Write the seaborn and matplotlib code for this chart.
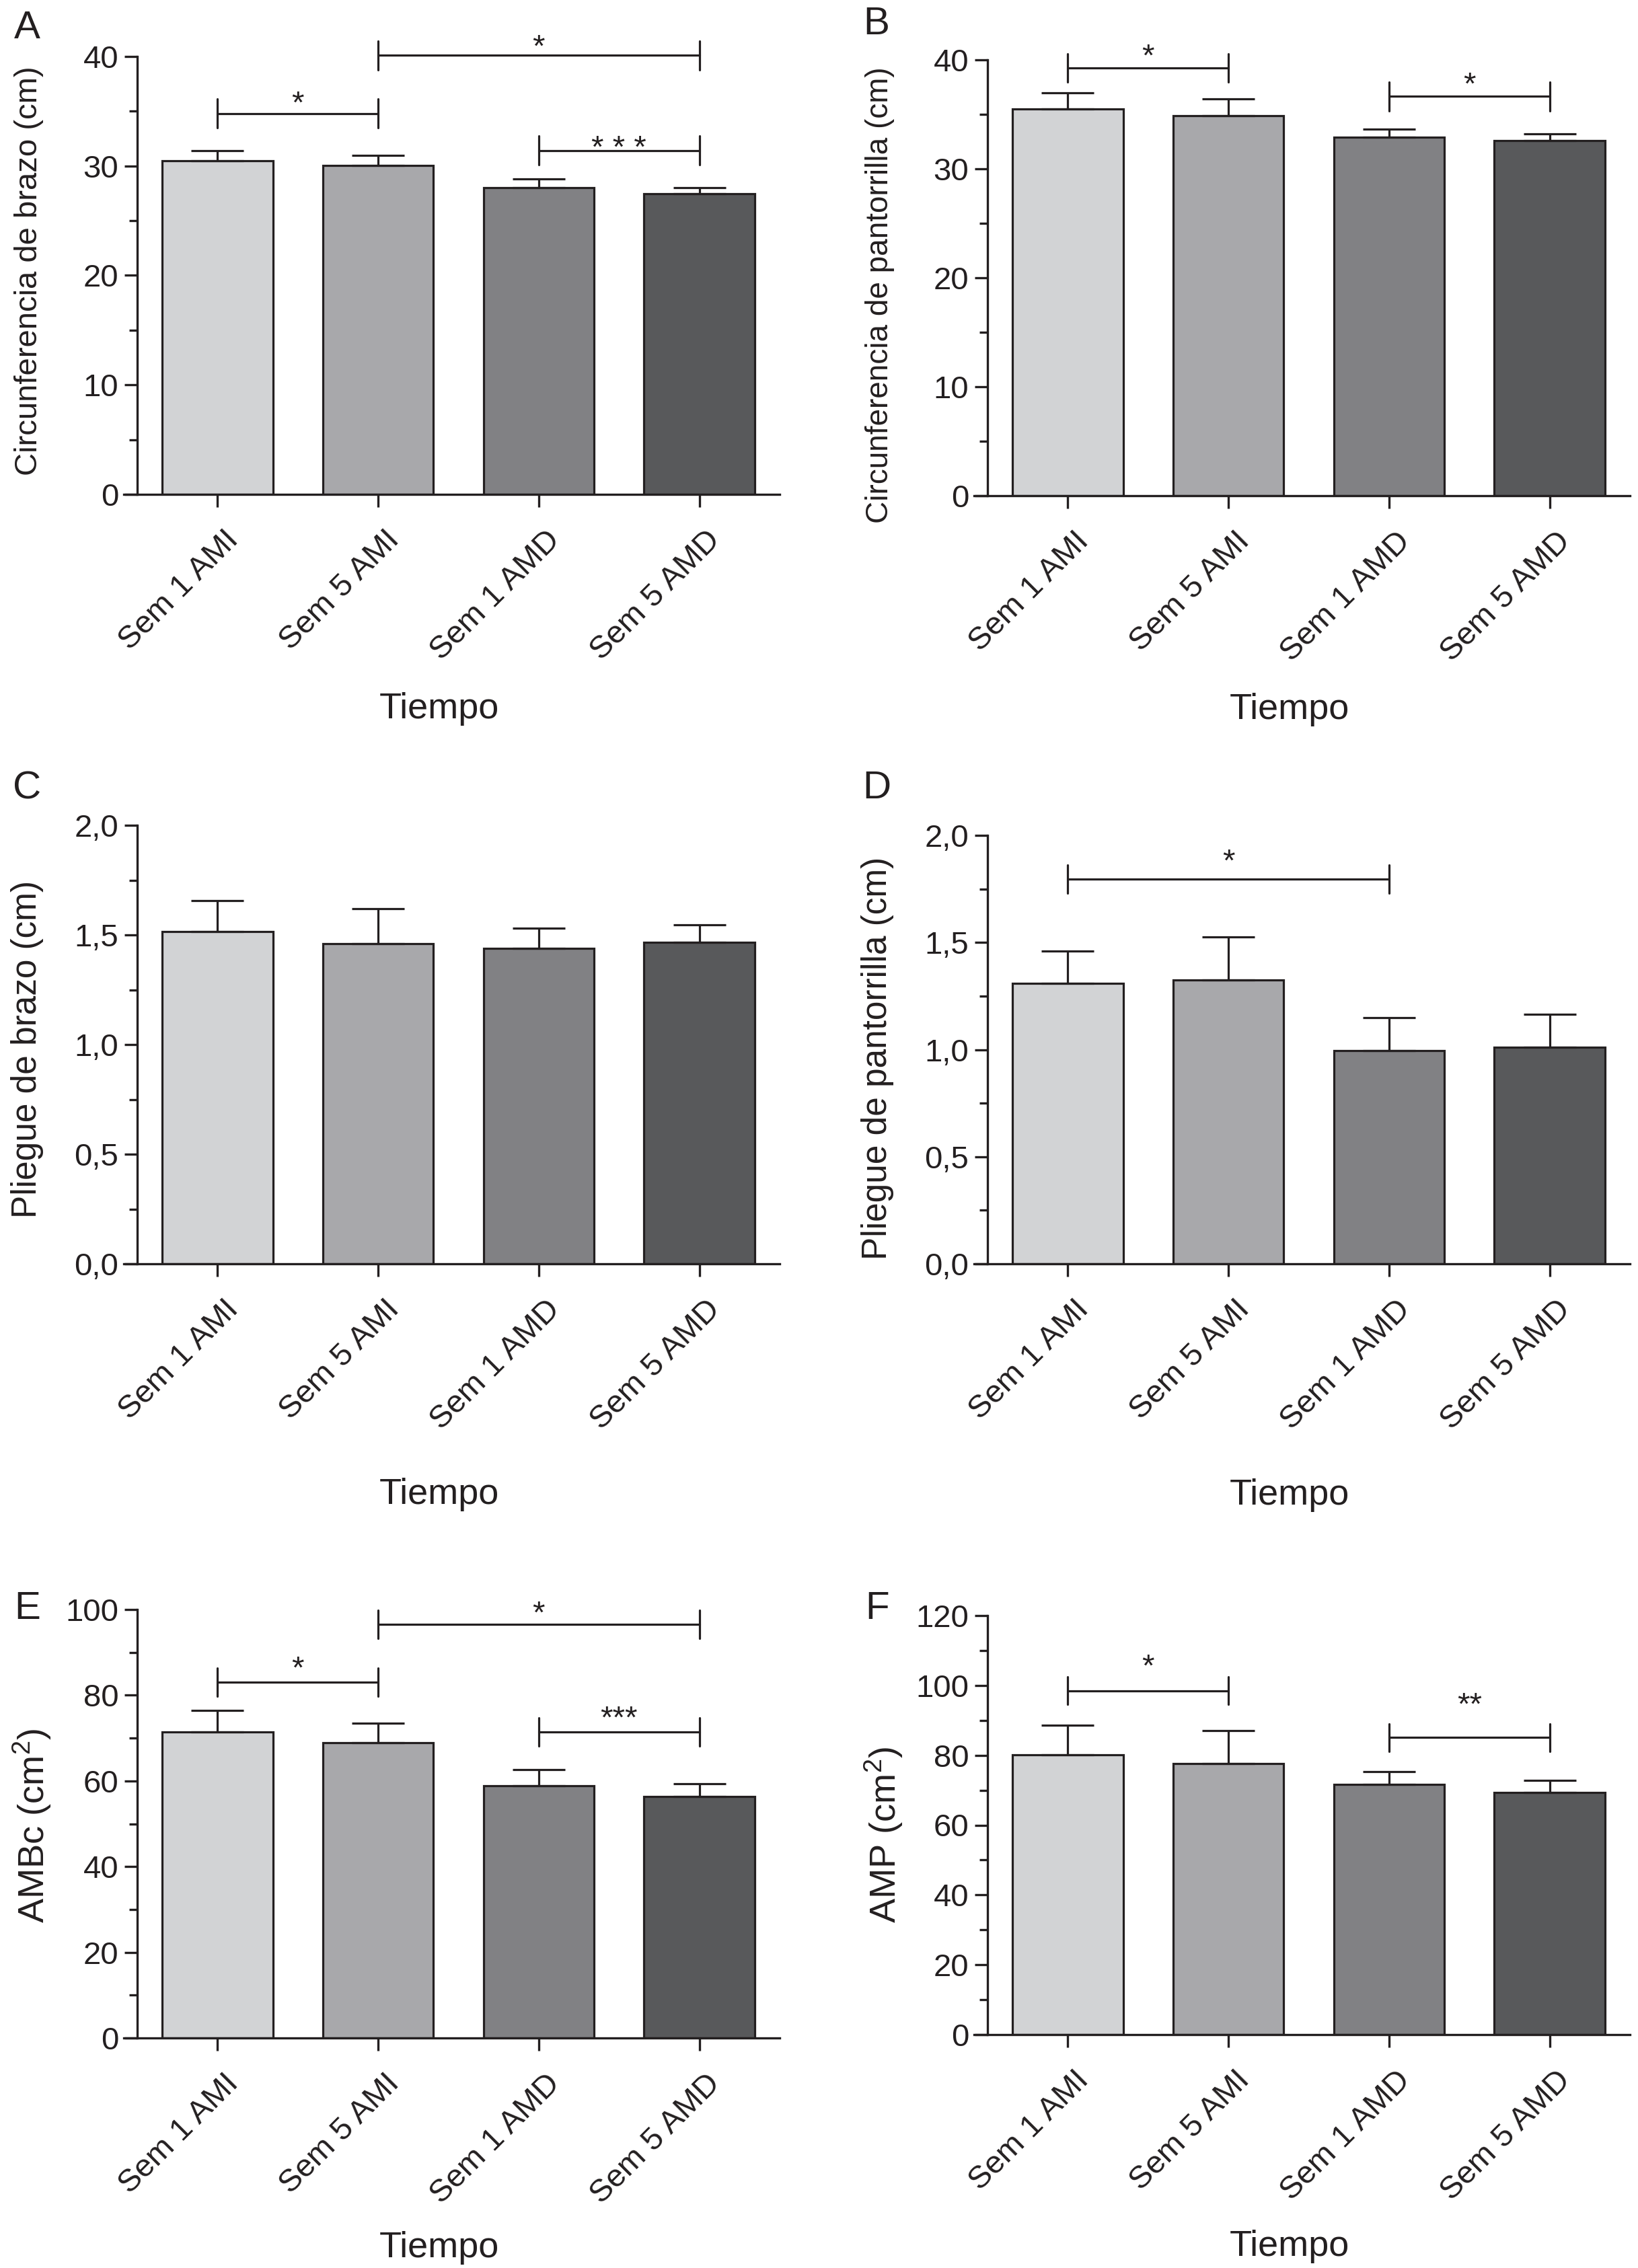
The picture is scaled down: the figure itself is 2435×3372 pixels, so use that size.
import matplotlib
matplotlib.use("Agg")
import matplotlib.pyplot as plt
import seaborn as sns
import pandas as pd
from matplotlib.ticker import MultipleLocator, FuncFormatter
from matplotlib.transforms import ScaledTranslation

# ---------------- data ----------------
categories = ["Sem 1 AMI", "Sem 5 AMI", "Sem 1 AMD", "Sem 5 AMD"]

arm_circ = [30.5, 30.05, 28.0, 27.45]
arm_circ_err = [0.9, 0.9, 0.8, 0.55]

calf_circ = [35.5, 34.9, 32.9, 32.6]
calf_circ_err = [1.45, 1.55, 0.75, 0.6]

arm_fold = [1.515, 1.46, 1.44, 1.465]
arm_fold_err = [0.14, 0.16, 0.09, 0.08]

calf_fold = [1.31, 1.325, 0.995, 1.01]
calf_fold_err = [0.15, 0.20, 0.155, 0.155]

ambc = [71.5, 68.9, 58.9, 56.4]
ambc_err = [4.9, 4.6, 3.7, 3.0]

amp = [80.1, 77.6, 71.6, 69.4]
amp_err = [8.5, 9.5, 3.8, 3.5]

# significance brackets: (bar i, bar j, height, label)
sig_A = [(0, 1, 34.8, "*"), (1, 3, 40.1, "*"), (2, 3, 31.4, "* * *")]
sig_B = [(0, 1, 39.26, "*"), (2, 3, 36.65, "*")]
sig_C = []
sig_D = [(0, 2, 1.796, "*")]
sig_E = [(0, 1, 83.1, "*"), (1, 3, 96.5, "*"), (2, 3, 71.5, "***")]
sig_F = [(0, 1, 98.5, "*"), (2, 3, 85.1, "**")]

# ---------------- style ----------------
sns.set_theme(style="ticks")
plt.rcParams["font.family"] = ["Liberation Sans", "DejaVu Sans"]
plt.rcParams["mathtext.fontset"] = "custom"
plt.rcParams["mathtext.rm"] = "Liberation Sans"

INK = "#231f20"
palette = ["#d2d3d5", "#a7a8ab", "#808184", "#58595b"]
FS = 34          # tick labels and stars
FS_X = 39        # "Tiempo"
LW = 2.3

fig = plt.figure(figsize=(24.35, 33.72), dpi=100)

W, H = 2435.0, 3372.0
def rect(left, top, bottom, width=955):
    return [left / W, 1 - bottom / H, width / W, (bottom - top) / H]

panels = [
    dict(letter="A", pos=rect(204, 84, 735), vals=arm_circ, err=arm_circ_err, top=40, major=10, minor=5,
         ylabel="Circunferencia de brazo (cm)", yfs=34, comma=False, sig=sig_A, star_px=[28, 26, 17],
         ylab=(-0.146, 0.51), xlab_y=-0.49, letter_xy=(40, 42)),
    dict(letter="B", pos=rect(1468, 89, 737), vals=calf_circ, err=calf_circ_err, top=40, major=10, minor=5,
         ylabel="Circunferencia de pantorrilla (cm)", yfs=33, comma=False, sig=sig_B, star_px=[31, 31],
         ylab=(-0.145, 0.461), xlab_y=-0.49, letter_xy=(1303, 36)),
    dict(letter="C", pos=rect(204, 1227, 1879), vals=arm_fold, err=arm_fold_err, top=2.0, major=0.5, minor=0.25,
         ylabel="Pliegue de brazo (cm)", yfs=37, comma=True, sig=sig_C, star_px=[],
         ylab=(-0.146, 0.49), xlab_y=-0.526, letter_xy=(40, 1172)),
    dict(letter="D", pos=rect(1468, 1242, 1879), vals=calf_fold, err=calf_fold_err, top=2.0, major=0.5, minor=0.25,
         ylabel="Pliegue de pantorrilla (cm)", yfs=37, comma=True, sig=sig_D, star_px=[40],
         ylab=(-0.146, 0.48), xlab_y=-0.54, letter_xy=(1303, 1172)),
    dict(letter="E", pos=rect(204, 2393, 3030), vals=ambc, err=ambc_err, top=100, major=20, minor=10,
         ylabel="AMBc (cm$^2$)", yfs=39, comma=False, sig=sig_E, star_px=[33, 30, 33],
         ylab=(-0.131, 0.496), xlab_y=-0.49, letter_xy=(41, 2392)),
    dict(letter="F", pos=rect(1468, 2402, 3025), vals=amp, err=amp_err, top=120, major=20, minor=10,
         ylabel="AMP (cm$^2$)", yfs=39, comma=False, sig=sig_F, star_px=[49, 62],
         ylab=(-0.129, 0.477), xlab_y=-0.506, letter_xy=(1304, 2392)),
]

shift = ScaledTranslation(9 / 100, 0, fig.dpi_scale_trans)

for p in panels:
    ax = fig.add_axes(p["pos"])
    df = pd.DataFrame({"Tiempo": categories, "val": p["vals"]})
    sns.barplot(data=df, x="Tiempo", y="val", hue="Tiempo", palette=palette, order=categories,
                hue_order=categories, legend=False, errorbar=None, width=0.69,
                edgecolor=INK, linewidth=LW, ax=ax, zorder=2)
    xs = list(range(len(categories)))
    ax.errorbar(xs, p["vals"], yerr=[[0] * len(xs), p["err"]], fmt="none", ecolor=INK,
                elinewidth=LW, capsize=28, capthick=LW, zorder=3)

    ax.set_xlim(-0.5, 3.5)
    ax.set_ylim(0, p["top"])
    ax.yaxis.set_major_locator(MultipleLocator(p["major"]))
    ax.yaxis.set_minor_locator(MultipleLocator(p["minor"]))
    if p["comma"]:
        ax.yaxis.set_major_formatter(FuncFormatter(lambda v, _: f"{v:.1f}".replace(".", ",")))
    else:
        ax.yaxis.set_major_formatter(FuncFormatter(lambda v, _: f"{v:.0f}"))

    sns.despine(ax=ax)
    for s in ("left", "bottom"):
        ax.spines[s].set_linewidth(2.4)
        ax.spines[s].set_color(INK)
    ax.spines["bottom"].set_bounds(-0.585, 3.5)
    ax.tick_params(axis="both", which="major", length=14, width=2.4, color=INK,
                   labelsize=FS, labelcolor=INK, pad=6)
    ax.tick_params(axis="y", which="minor", length=9, width=2.4, color=INK)
    ax.tick_params(axis="x", which="major", pad=19)

    for lbl in ax.get_xticklabels():
        lbl.set_rotation(45)
        lbl.set_ha("right")
        lbl.set_va("top")
        lbl.set_rotation_mode("anchor")
        lbl.set_transform(lbl.get_transform() + shift)

    ax.set_ylabel(p["ylabel"], fontsize=p["yfs"], color=INK)
    ax.yaxis.set_label_coords(*p["ylab"])
    ax.set_xlabel("Tiempo", fontsize=FS_X, color=INK)
    ax.xaxis.label.set_va("center")
    ax.xaxis.set_label_coords(0.47, p["xlab_y"])

    # significance brackets
    half = 0.033 * p["top"]
    for (i, j, y, lab), spx in zip(p["sig"], p["star_px"]):
        ax.plot([i, j], [y, y], color=INK, lw=LW, clip_on=False, zorder=4)
        ax.plot([i, i], [y - half, y + half], color=INK, lw=LW, clip_on=False, zorder=4)
        ax.plot([j, j], [y - half, y + half], color=INK, lw=LW, clip_on=False, zorder=4)
        ax.annotate(lab, xy=((i + j) / 2, y), xytext=(0, spx * 0.72 - 0.58 * FS),
                    textcoords="offset points", ha="center", va="baseline",
                    fontsize=FS, color=INK, annotation_clip=False)

    lx, ly = p["letter_xy"]
    fig.text(lx / W, 1 - ly / H, p["letter"], fontsize=42, color=INK, ha="center", va="center")

fig.savefig("out.png", dpi=100, facecolor="white")
